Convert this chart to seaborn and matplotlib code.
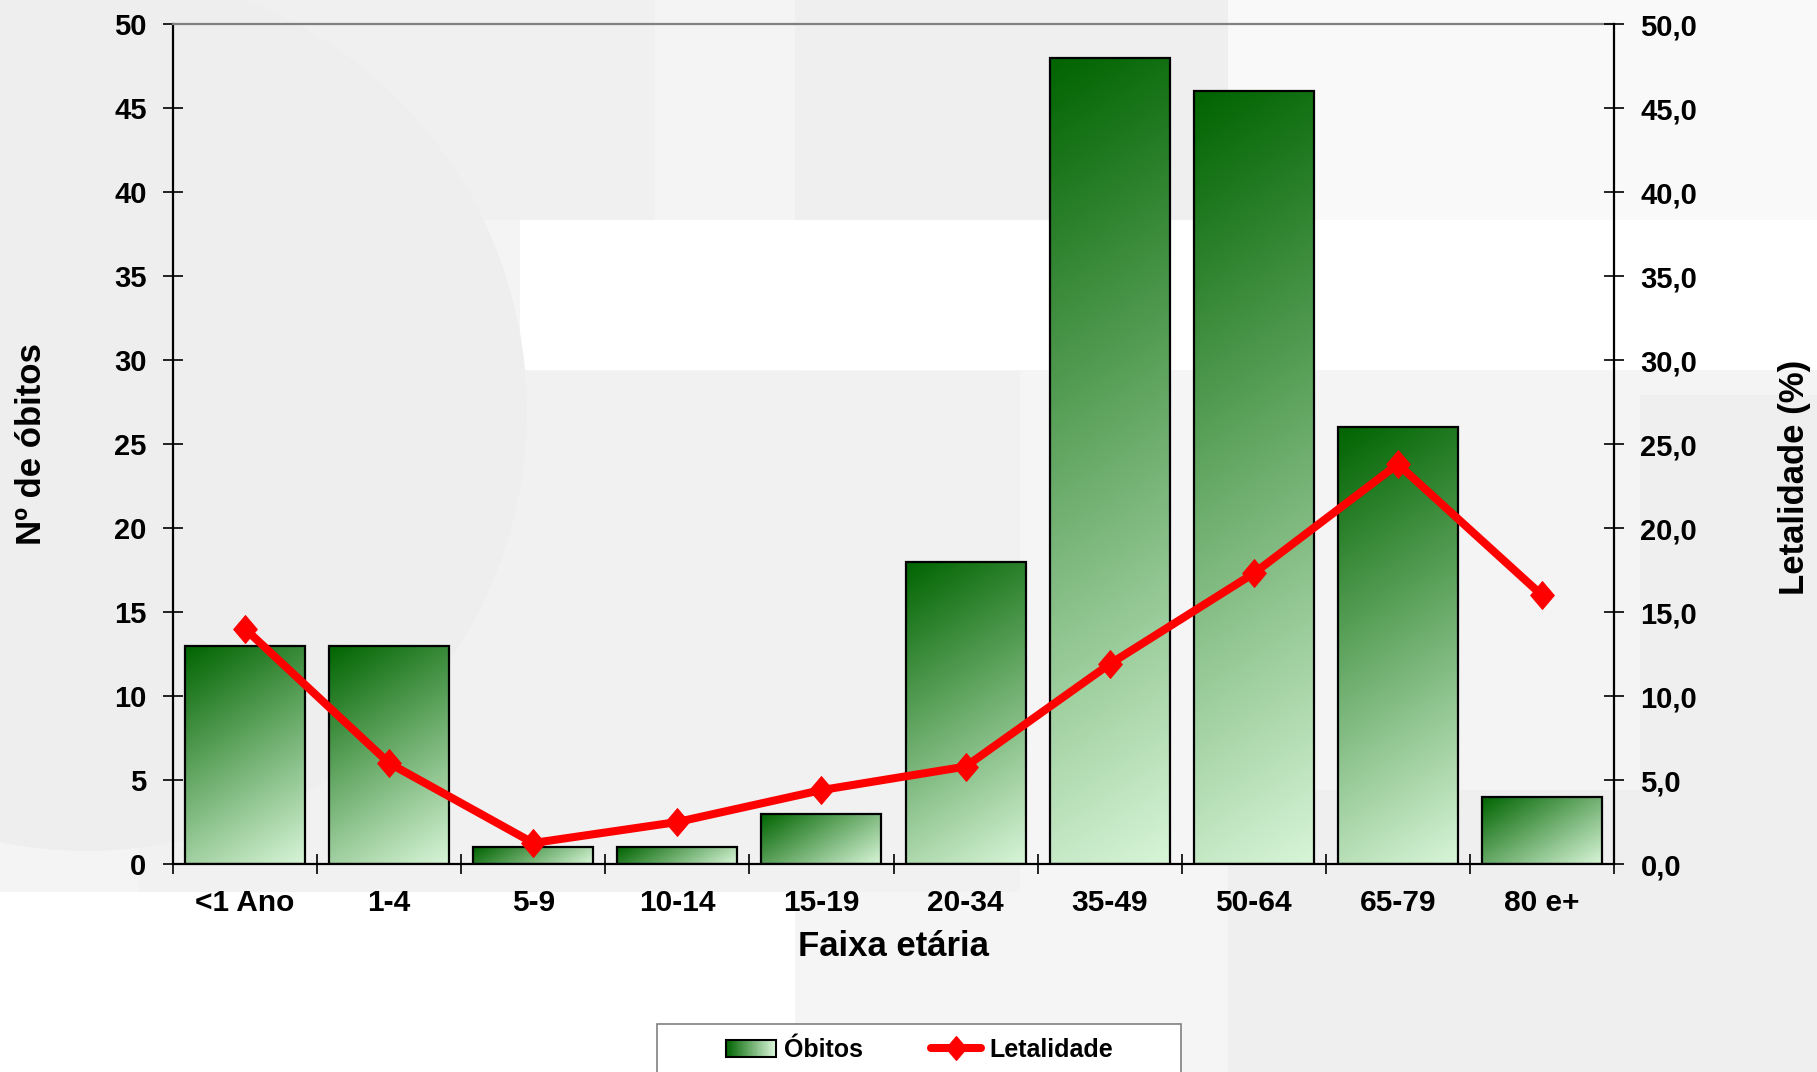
import numpy as np
import pandas as pd
import matplotlib
matplotlib.use("Agg")
import matplotlib.pyplot as plt
import seaborn as sns
from matplotlib.patches import Rectangle, Ellipse
from matplotlib.path import Path
from matplotlib.lines import Line2D
from matplotlib.legend_handler import HandlerBase
from matplotlib.colors import LinearSegmentedColormap

# dados
faixas = ["<1 Ano", "1-4", "5-9", "10-14", "15-19", "20-34", "35-49", "50-64", "65-79", "80 e+"]
obitos = [13, 13, 1, 1, 3, 18, 48, 46, 26, 4]
letalidade = [14.0, 6.0, 1.25, 2.5, 4.4, 5.8, 11.9, 17.3, 23.8, 16.0]

sns.set_theme(style="ticks")
plt.rcParams["font.family"] = ["Liberation Sans", "DejaVu Sans"]
plt.rcParams["font.weight"] = "bold"
plt.rcParams["axes.labelweight"] = "bold"
for k in ["text.color", "axes.labelcolor", "xtick.color", "ytick.color", "axes.edgecolor"]:
    plt.rcParams[k] = "black"

verdes = LinearSegmentedColormap.from_list("verdes", ["#006400", "#d8f5d8"])
losango = Path([(0, 1), (0.85, 0), (0, -1), (-0.85, 0), (0, 1)],
               [Path.MOVETO, Path.LINETO, Path.LINETO, Path.LINETO, Path.CLOSEPOLY])

W, H = 1817, 1072
fig = plt.figure(figsize=(W / 100, H / 100), dpi=100, facecolor="#f4f4f4")

# fundo decorativo (aproximado)
def bloco(x, y, w, h, cor):
    fig.patches.append(Rectangle((x / W, 1 - (y + h) / H), w / W, h / H, transform=fig.transFigure,
                                 facecolor=cor, edgecolor="none", zorder=-10))

def circulo(cx, cy, r, cor):
    fig.patches.append(Ellipse((cx / W, 1 - cy / H), 2 * r / W, 2 * r / H, transform=fig.transFigure,
                               facecolor=cor, edgecolor="none", zorder=-9))

bloco(220, 0, 435, 220, "#f0f0f0")
bloco(795, 0, 433, 220, "#efefef")
bloco(1228, 0, 589, 220, "#f9f9f9")
bloco(520, 220, 1297, 150, "#ffffff")
bloco(795, 370, 433, 702, "#f5f5f5")
bloco(139, 371, 881, 521, "#f1f1f1")
bloco(0, 892, 795, 180, "#ffffff")
bloco(1228, 790, 589, 282, "#efefef")
bloco(1640, 395, 177, 395, "#efefef")
circulo(87, 411, 440, "#eeeeee")

ax = fig.add_axes([173 / W, 1 - 864 / H, 1441 / W, 840 / H])
ax.set_facecolor("none")

df = pd.DataFrame({"faixa": faixas, "obitos": obitos})
sns.barplot(data=df, x="faixa", y="obitos", ax=ax, width=0.833, color="#5fa35f",
            edgecolor="black", linewidth=1.6, zorder=3)
ax.set_xlim(-0.5, 9.5)
ax.set_ylim(0, 50)

# gradiente inclinado (~32 graus da vertical, em pixels) em cada barra
ang = np.radians(32)
for bar in list(ax.patches):
    x0, y0 = bar.get_x(), bar.get_y()
    w, h = bar.get_width(), bar.get_height()
    p0 = ax.transData.transform((x0, y0))
    p1 = ax.transData.transform((x0 + w, y0 + h))
    wp, hp = abs(p1[0] - p0[0]), abs(p1[1] - p0[1])
    xx = np.linspace(0, wp, max(int(wp), 2))
    yy = np.linspace(0, hp, max(int(hp), 2))
    t = (xx[None, :] * np.sin(ang) + yy[:, None] * np.cos(ang)) / (wp * np.sin(ang) + hp * np.cos(ang))
    im = ax.imshow(t, cmap=verdes, vmin=0, vmax=1, extent=[x0, x0 + w, y0, y0 + h],
                   origin="upper", aspect="auto", interpolation="bilinear", zorder=2)
    im.set_clip_path(bar)
    bar.set_facecolor("none")
ax.set_xlim(-0.5, 9.5)
ax.set_ylim(0, 50)

ax.set_xticks(np.arange(-0.5, 10, 1))
ax.set_xticklabels([])
ax.set_xticks(np.arange(10), minor=True)
ax.set_xticklabels(faixas, minor=True)
ax.tick_params(axis="x", which="major", direction="inout", length=14, width=1.2)
ax.tick_params(axis="x", which="minor", length=0, pad=18, labelsize=21.5)
ax.set_yticks(np.arange(0, 51, 5))
ax.tick_params(axis="y", direction="inout", length=14, width=1.2, pad=12, labelsize=21)

for s in ["left", "bottom"]:
    ax.spines[s].set_linewidth(1.6)
ax.spines["top"].set_color("#808080")
ax.spines["top"].set_linewidth(1.6)
ax.spines["right"].set_visible(False)

ax.set_xlabel("Faixa etária", fontsize=25, va="center")
ax.xaxis.set_label_coords(0.5, -(946 - 864) / 840)
ax.set_ylabel("Nº de óbitos", fontsize=25, va="center")
ax.yaxis.set_label_coords((32 - 173) / 1441, 0.5)

# letalidade no eixo da direita
ax2 = ax.twinx()
sns.lineplot(x=np.arange(10), y=letalidade, ax=ax2, color="red", linewidth=5.8,
             marker=losango, markersize=20, markeredgecolor="red", markerfacecolor="red", zorder=5)
ax2.set_ylim(0, 50)
ax2.set_xlim(-0.5, 9.5)
ax2.set_yticks(np.arange(0, 51, 5))
ax2.set_yticklabels([f"{v:.1f}".replace(".", ",") for v in np.arange(0, 51, 5)])
ax2.tick_params(axis="y", direction="inout", length=14, width=1.2, pad=12, labelsize=21)
for s in ["top", "left", "bottom"]:
    ax2.spines[s].set_visible(False)
ax2.spines["right"].set_linewidth(1.6)
ax2.set_ylabel("Letalidade (%)", fontsize=25, va="center", rotation=90)
ax2.yaxis.set_label_coords((1794 - 173) / 1441, 0.46)


class GradHandler(HandlerBase):
    def create_artists(self, legend, orig, xd, yd, width, height, fontsize, trans):
        n = 40
        arts = []
        for i in range(n):
            arts.append(Rectangle((-xd + width * i / n, -yd), width / n + 0.3, height,
                                  facecolor=verdes(i / (n - 1)), edgecolor="none", transform=trans))
        arts.append(Rectangle((-xd, -yd), width, height, facecolor="none",
                              edgecolor="black", linewidth=1.5, transform=trans))
        return arts


fig.patches.append(Rectangle((657 / W, -0.05), 524 / W, 0.05 + (1 - 1024 / H), transform=fig.transFigure,
                             facecolor="white", edgecolor="#808080", linewidth=1.2, zorder=1))
h_bar = Rectangle((0, 0), 1, 1)
h_lin = Line2D([], [], color="red", linewidth=5.8, marker=losango, markersize=17,
               markeredgecolor="red", markerfacecolor="red")
fig.legend([h_bar, h_lin], ["Óbitos", "Letalidade"], loc="center", bbox_to_anchor=(0.506, 1 - 1050 / H),
           ncol=2, frameon=False, prop={"weight": "bold", "size": 18}, handlelength=2.0,
           handletextpad=0.35, columnspacing=2.7, handler_map={h_bar: GradHandler()})

fig.savefig("out.png", dpi=100, facecolor=fig.get_facecolor())
